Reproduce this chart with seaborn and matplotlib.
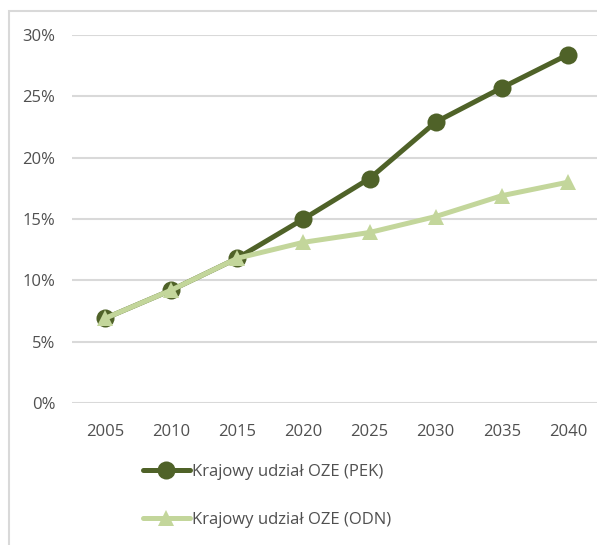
import pandas as pd
import matplotlib.pyplot as plt
import seaborn as sns
from matplotlib.patches import Rectangle

# Dane
lata = [2005, 2010, 2015, 2020, 2025, 2030, 2035, 2040]
udzial_pek = [6.9, 9.2, 11.8, 15.0, 18.3, 22.9, 25.7, 28.4]
udzial_odn = [6.9, 9.2, 11.8, 13.1, 13.9, 15.2, 16.9, 18.0]
etykieta_pek = 'Krajowy udział OZE (PEK)'
etykieta_odn = 'Krajowy udział OZE (ODN)'

dane = pd.DataFrame({'Rok': lata, 'PEK': udzial_pek, 'ODN': udzial_odn})

sns.set_theme(style='white')
plt.rcParams['font.family'] = ['Open Sans', 'DejaVu Sans']

W, H = 597, 545
fig = plt.figure(figsize=(W / 100, H / 100), dpi=100)

# ramka wykresu (jak w Excelu)
fig.patches.append(Rectangle((8.5 / W, -0.1), 1.2, 1 - 10.5 / H + 0.1,
                             transform=fig.transFigure, fill=False,
                             edgecolor='#D9D9D9', linewidth=1.5))

ax = fig.add_axes([72 / W, 1 - 403 / H, (601 - 72) / W, (403 - 35) / H])

ciemny = '#4F6228'
jasny = '#C3D69B'

sns.lineplot(data=dane, x='Rok', y='PEK', ax=ax, color=ciemny, linewidth=3.6,
             marker='o', markersize=13, markeredgewidth=0, label=etykieta_pek)
sns.lineplot(data=dane, x='Rok', y='ODN', ax=ax, color=jasny, linewidth=3.6,
             marker='^', markersize=12, markeredgewidth=0, label=etykieta_odn)

ax.set_xlim(2002.5, 2042.5)
ax.set_ylim(0, 30)
ax.set_xticks(lata)
ax.set_xticklabels([str(r) for r in lata])
ax.set_yticks(range(0, 31, 5))
ax.set_yticklabels([f'{v}%' for v in range(0, 31, 5)])
ax.tick_params(axis='both', labelsize=12, colors='#505050', length=0)
ax.tick_params(axis='x', pad=15)
ax.tick_params(axis='y', pad=12)
ax.grid(axis='y', color='#D9D9D9', linewidth=1.5)
ax.set_axisbelow(True)
for s in ax.spines.values():
    s.set_visible(False)
ax.set_xlabel('')
ax.set_ylabel('')

uchwyty, etykiety = ax.get_legend_handles_labels()
ax.get_legend().remove()
fig.legend(uchwyty, etykiety, loc='upper left',
           bbox_to_anchor=(128 / W, 1 - 449 / H), frameon=False,
           fontsize=12, labelcolor='#505050', handlelength=2.8,
           handletextpad=0.15, labelspacing=1.9)

plt.savefig('out.png', dpi=100)
plt.close()
